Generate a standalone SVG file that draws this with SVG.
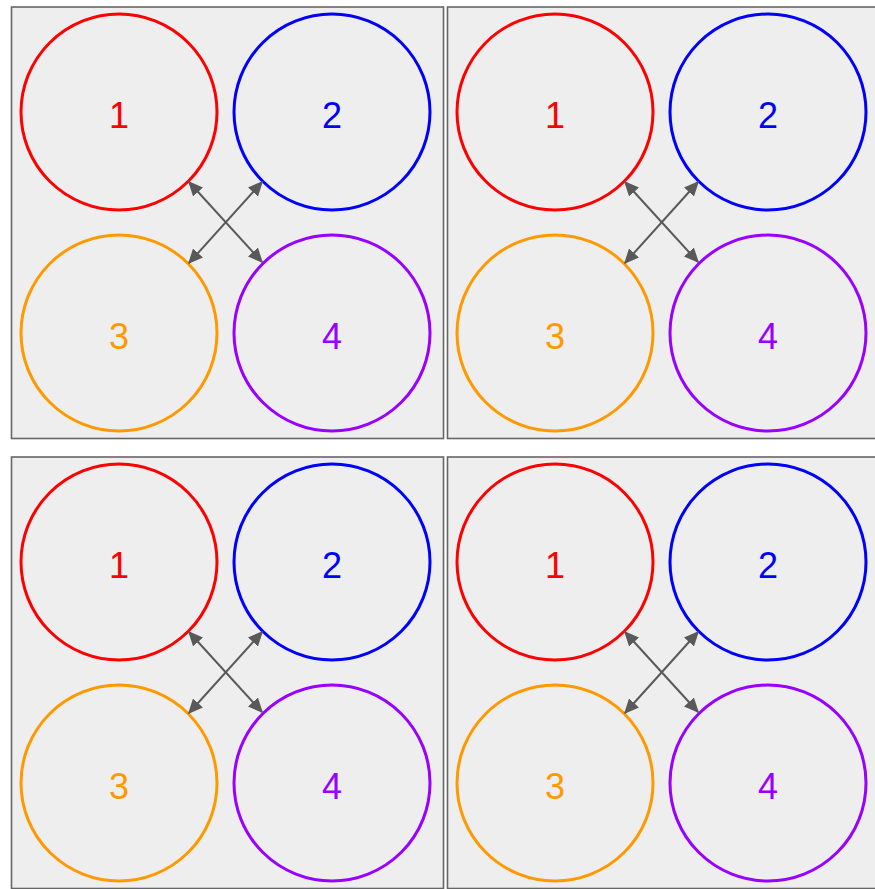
<svg xmlns="http://www.w3.org/2000/svg" width="875" height="889" viewBox="0 0 875 889">
<style>
.panel{fill:#eeeeee;stroke:#666666;stroke-width:1.6}
.c{fill:none;stroke-width:3}
.t{font-family:"Liberation Sans",Arial,sans-serif;font-size:36px;text-anchor:middle}
.r{stroke:#ff0000}.b{stroke:#0000ff}.o{stroke:#ff9900}.p{stroke:#9900ff}
.tr{fill:#ff0000}.tb{fill:#0000ff}.to{fill:#ff9900}.tp{fill:#9900ff}
.a{stroke:#595959;stroke-width:2;fill:none;marker-start:url(#ah);marker-end:url(#ah)}
</style>
<defs>
<marker id="ah" viewBox="0 0 10 9" refX="9" refY="4.5" markerWidth="7.5" markerHeight="6.75" markerUnits="strokeWidth" orient="auto-start-reverse">
<path d="M0,0 L10,4.5 L0,9 z" fill="#595959"/>
</marker>
</defs>
<rect width="875" height="889" fill="#ffffff"/>
<g id="panel1">
<rect class="panel" x="11.5" y="7" width="432" height="431.5"/>
<g id="p1n1"><circle class="c r" cx="119" cy="112" r="98"/><text class="t tr" x="119" y="128">1</text></g>
<g id="p1n2"><circle class="c b" cx="332" cy="112" r="98"/><text class="t tb" x="332" y="128">2</text></g>
<g id="p1n3"><circle class="c o" cx="119" cy="333" r="98"/><text class="t to" x="119" y="349">3</text></g>
<g id="p1n4"><circle class="c p" cx="332" cy="333" r="98"/><text class="t tp" x="332" y="349">4</text></g>
</g>
<g id="panel2">
<rect class="panel" x="447.5" y="7" width="432" height="431.5"/>
<g id="p2n1"><circle class="c r" cx="555" cy="112" r="98"/><text class="t tr" x="555" y="128">1</text></g>
<g id="p2n2"><circle class="c b" cx="768" cy="112" r="98"/><text class="t tb" x="768" y="128">2</text></g>
<g id="p2n3"><circle class="c o" cx="555" cy="333" r="98"/><text class="t to" x="555" y="349">3</text></g>
<g id="p2n4"><circle class="c p" cx="768" cy="333" r="98"/><text class="t tp" x="768" y="349">4</text></g>
</g>
<g id="panel3">
<rect class="panel" x="11.5" y="457" width="432" height="431.5"/>
<g id="p3n1"><circle class="c r" cx="119" cy="562" r="98"/><text class="t tr" x="119" y="578">1</text></g>
<g id="p3n2"><circle class="c b" cx="332" cy="562" r="98"/><text class="t tb" x="332" y="578">2</text></g>
<g id="p3n3"><circle class="c o" cx="119" cy="783" r="98"/><text class="t to" x="119" y="799">3</text></g>
<g id="p3n4"><circle class="c p" cx="332" cy="783" r="98"/><text class="t tp" x="332" y="799">4</text></g>
</g>
<g id="panel4">
<rect class="panel" x="447.5" y="457" width="432" height="431.5"/>
<g id="p4n1"><circle class="c r" cx="555" cy="562" r="98"/><text class="t tr" x="555" y="578">1</text></g>
<g id="p4n2"><circle class="c b" cx="768" cy="562" r="98"/><text class="t tb" x="768" y="578">2</text></g>
<g id="p4n3"><circle class="c o" cx="555" cy="783" r="98"/><text class="t to" x="555" y="799">3</text></g>
<g id="p4n4"><circle class="c p" cx="768" cy="783" r="98"/><text class="t tp" x="768" y="799">4</text></g>
</g>
<g id="connectors">
<line class="a" x1="189" y1="182" x2="262" y2="262"/>
<line class="a" x1="262" y1="182" x2="189" y2="263"/>
<line class="a" x1="625" y1="182" x2="698" y2="262"/>
<line class="a" x1="698" y1="182" x2="625" y2="263"/>
<line class="a" x1="189" y1="632" x2="262" y2="712"/>
<line class="a" x1="262" y1="632" x2="189" y2="713"/>
<line class="a" x1="625" y1="632" x2="698" y2="712"/>
<line class="a" x1="698" y1="632" x2="625" y2="713"/>
</g>
</svg>
